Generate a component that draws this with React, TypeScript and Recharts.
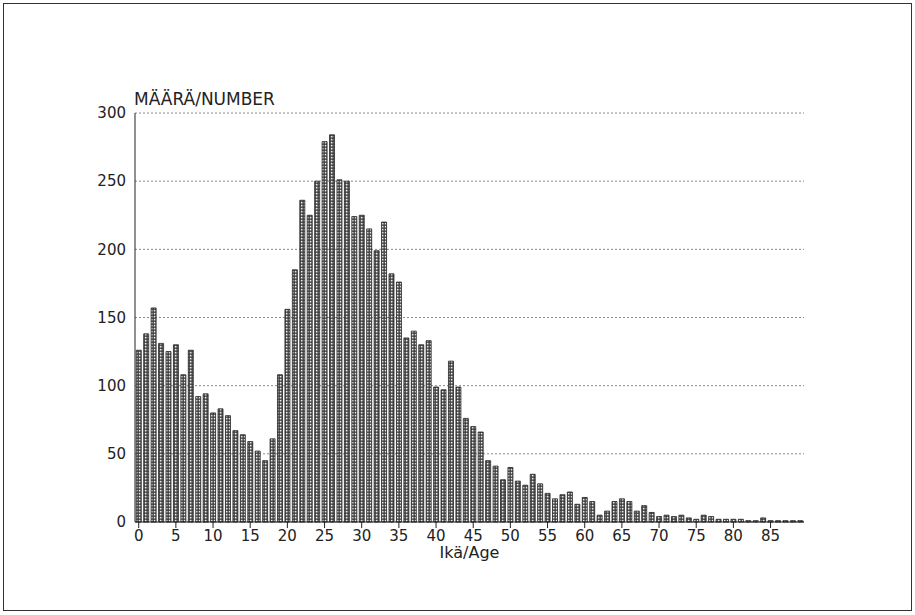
import { BarChart, Bar, XAxis, YAxis, CartesianGrid } from "recharts";

// age 0..89
const ages = Array.from({ length: 90 }, (_, i) => i);
const counts = [
  126, 138, 157, 131, 125, 130, 108, 126, 92, 94,
  80, 83, 78, 67, 64, 59, 52, 45, 61, 108,
  156, 185, 236, 225, 250, 279, 284, 251, 250, 224,
  225, 215, 199, 220, 182, 176, 135, 140, 130, 133,
  99, 97, 118, 99, 76, 70, 66, 45, 41, 31,
  40, 30, 27, 35, 28, 21, 17, 20, 22, 13,
  18, 15, 5, 8, 15, 17, 15, 8, 12, 7,
  4, 5, 4, 5, 3, 2, 5, 4, 2, 2,
  2, 2, 1, 1, 3, 1, 1, 1, 1, 1,
];
const yTicks = [0, 50, 100, 150, 200, 250, 300];
const yTitle = "MÄÄRÄ/NUMBER";
const xTitle = "Ikä/Age";

const data = ages.map((age, i) => ({ age, count: counts[i] }));

const font = "'DejaVu Sans', 'Liberation Sans', sans-serif";

export default function App() {
  return (
    <div style={{ position: "absolute", left: 0, top: 0, width: 915, height: 615, background: "#fff", fontFamily: font }}>
      <div style={{ position: "absolute", left: 3, top: 3, width: 907, height: 606, border: "1.5px solid #333" }} />
      <div style={{ position: "absolute", left: 134, top: 89, fontSize: 17, color: "#222" }}>{yTitle}</div>
      <div style={{ position: "absolute", left: 0, top: 0 }}>
        <BarChart
          width={915}
          height={615}
          data={data}
          margin={{ top: 113, right: 111, bottom: 57, left: 0 }}
          barCategoryGap="17%"
        >
          <defs>
            <pattern id="dots" width="3" height="3" patternUnits="userSpaceOnUse">
              <rect width="3" height="3" fill="#3a3a3a" />
              <rect x="0.8" y="0.8" width="1.7" height="1.7" fill="#ececec" />
            </pattern>
          </defs>
          <CartesianGrid vertical={false} stroke="#888" strokeDasharray="2 2" />
          <XAxis
            dataKey="age"
            interval={4}
            tickSize={6}
            tickMargin={2}
            height={36}
            stroke="#222"
            tick={{ fill: "#222", fontSize: 15, fontFamily: font }}
            label={{ value: xTitle, position: "insideBottom", offset: 0, fill: "#222", fontSize: 16, fontFamily: font }}
          />
          <XAxis xAxisId="top" orientation="top" tick={false} tickLine={false} height={0} stroke="#222" />
          <YAxis
            domain={[0, 300]}
            ticks={yTicks}
            width={135}
            tickLine={false}
            tickSize={6}
            tickMargin={3}
            stroke="#222"
            tick={{ fill: "#222", fontSize: 15, fontFamily: font }}
          />
          <YAxis yAxisId="right" orientation="right" tick={false} tickLine={false} width={0} stroke="#222" />
          <Bar dataKey="count" fill="url(#dots)" stroke="#222" strokeWidth={0.8} isAnimationActive={false} />
        </BarChart>
      </div>
    </div>
  );
}
